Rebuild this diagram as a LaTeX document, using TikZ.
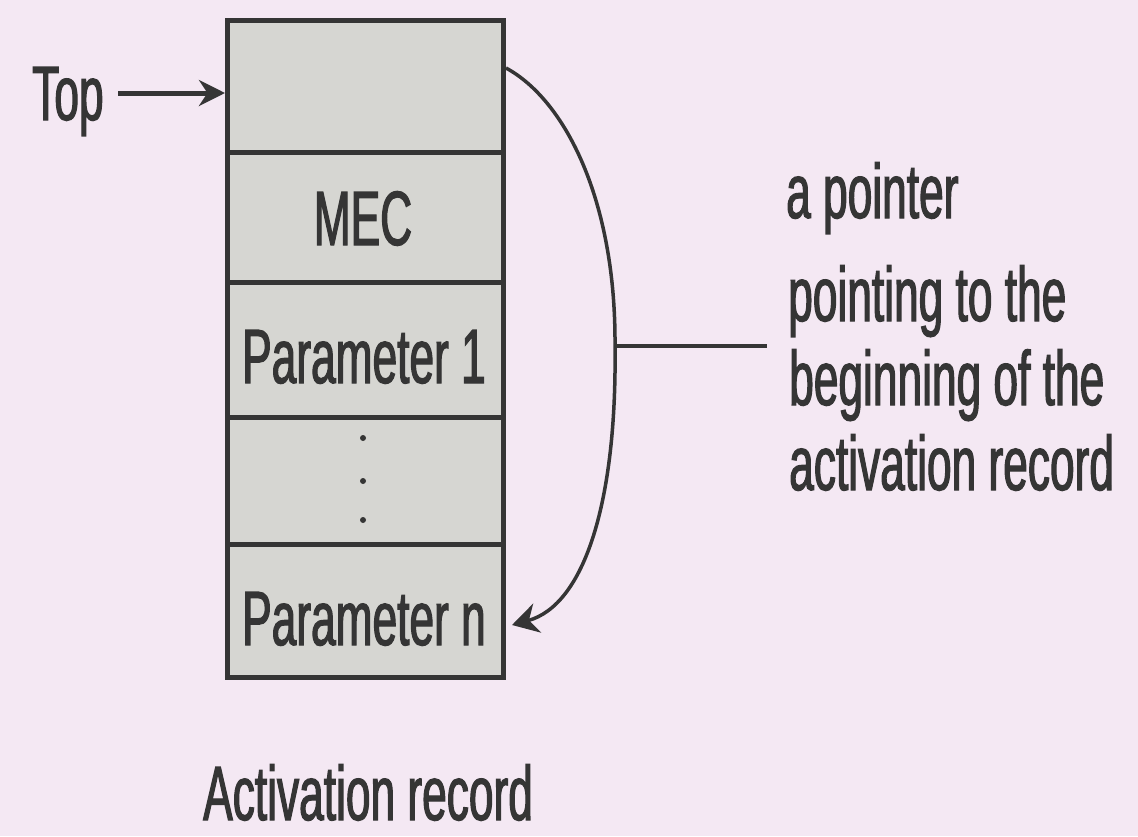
\documentclass[tikz,border=0pt]{standalone}
\usepackage{fontspec}
\setmainfont{Liberation Sans}[FakeStretch=0.575,FakeBold=1.5]
\usetikzlibrary{arrows.meta,calc}
\definecolor{bg}{HTML}{F4E8F3}
\definecolor{cellfill}{HTML}{D6D6D2}
\definecolor{ink}{HTML}{353535}
\begin{document}
\begin{tikzpicture}[x=1pt,y=-1pt,
  cell/.style={draw=ink, fill=cellfill, line width=5pt, minimum width=276pt,
    minimum height=#1, inner sep=0pt, anchor=north west},
  lbl/.style={text=ink, font=\fontsize{77}{82}\selectfont, inner sep=0pt, anchor=base},
  lblw/.style={lbl, anchor=base west},
  conn/.style={draw=ink, line width=3.5pt},
]
\fill[bg] (0,0) rectangle (1138,836);
\useasboundingbox (0,0) rectangle (1138,836);

% stacked cells of the activation record
\node[cell=132pt] (r1) at (225,18) {};
\node[cell=130pt] (r2) at (225,150) {};
\node[cell=135pt] (r3) at (225,280) {};
\node[cell=127pt] (r4) at (225,415) {};
\node[cell=133pt] (r5) at (225,542) {};

\node[lbl] (mec) at (363,245) {MEC};
\node[lbl] (par1) at (364,383) {Parameter 1};
\node[lbl] (parn) at (364,645) {Parameter n};
\fill[ink] (363,438) circle (3pt) (363,481) circle (3pt) (363,520) circle (3pt);

% Top pointer
\node[lblw] (top) at (32,120) {Top};
\coordinate (ta) at (118,93);
\draw[draw=ink, line width=5pt, -{Stealth[length=26pt,width=26pt]}] (ta) -- (ta -| r1.west);

% curved pointer
\coordinate (cs) at ($(r1.north east)+(0,50)$);
\coordinate (mid) at (615,346);
\coordinate (ce) at ($(r5.north east)+(6,83)$);
\draw[conn, -{Stealth[length=26pt,width=30pt]}] (cs) .. controls (565,100) and (616,200) .. (mid)
  .. controls (617,500) and (585,605) .. (ce);

% explanation
\coordinate (le) at (767,346);
\draw[draw=ink, line width=4pt] (mid) -- (le);
\node[lblw] (t1) at (786,218) {a pointer};
\node[lblw] (t2) at (788,321) {pointing to the};
\node[lblw] (t3) at (789,405) {beginning of the};
\node[lblw] (t4) at (789,490) {activation record};

\node[lblw] (cap) at (203,820) {Activation record};
\end{tikzpicture}
\end{document}
